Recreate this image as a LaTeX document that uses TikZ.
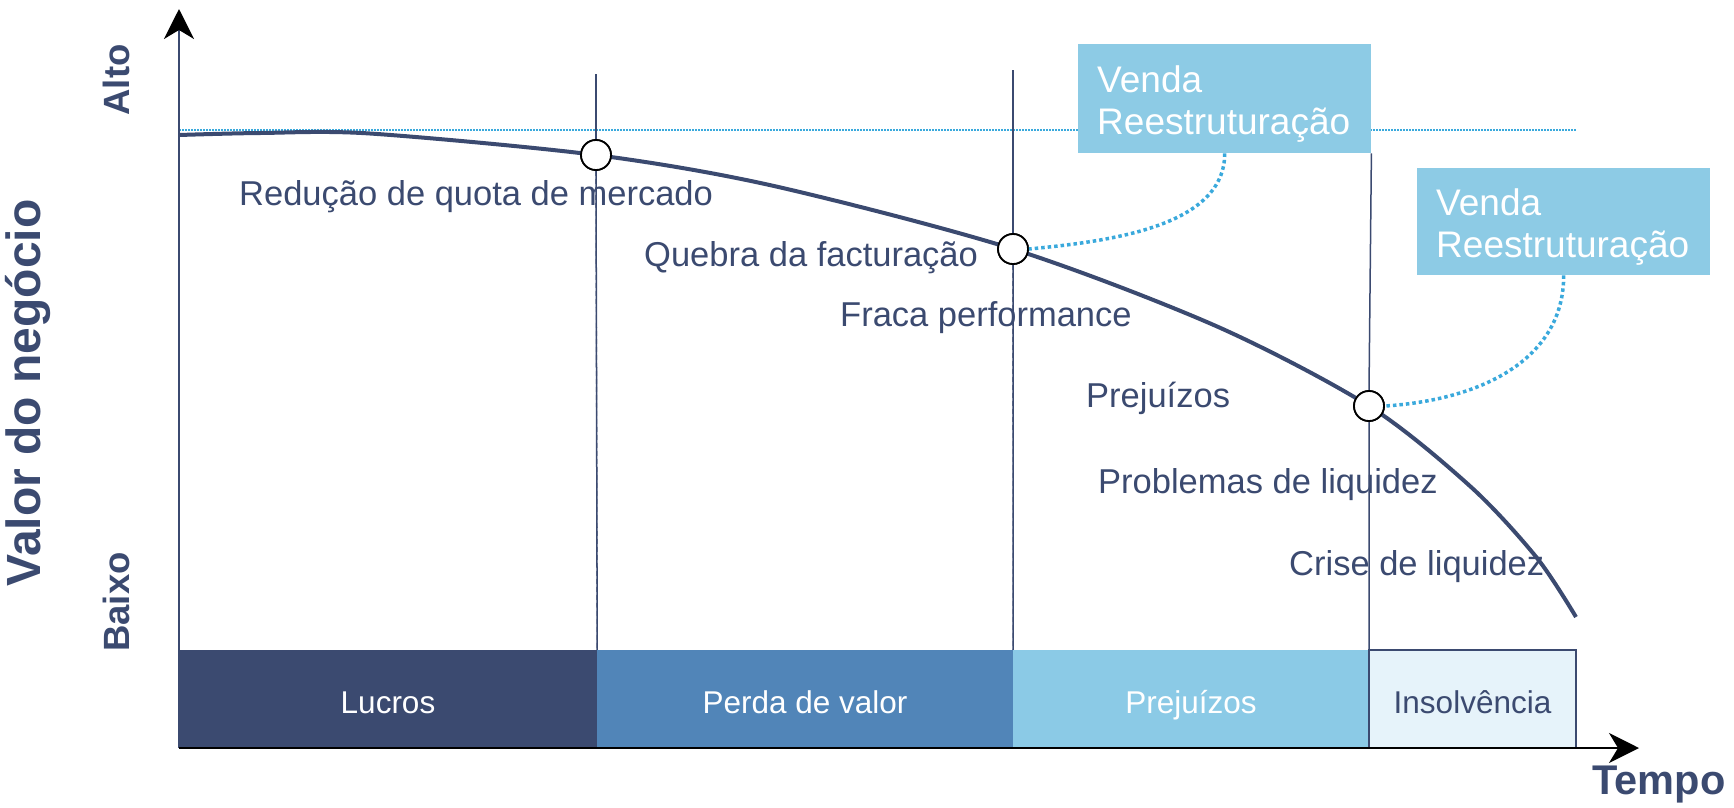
\documentclass[tikz,border=0pt]{standalone}
\usepackage{fontspec}
\setmainfont{Liberation Sans}
\usetikzlibrary{arrows.meta}
\definecolor{navy}{HTML}{3B4A70}
\definecolor{midblue}{HTML}{5185B8}
\definecolor{lightblue}{HTML}{8BCAE6}
\definecolor{paleblue}{HTML}{E6F3FA}
\definecolor{boxblue}{HTML}{8DCBE5}
\definecolor{dotblue}{HTML}{3AA9DC}
\tikzset{
  lbl/.style={font=\fontsize{34.5}{40}\selectfont, text=navy, inner sep=0pt, anchor=base west},
  barbox/.style={minimum height=98pt, inner sep=0pt, text height=0.72em+21pt, text depth=0pt, font=\fontsize{31.5}{36}\selectfont},
  vbox/.style={fill=boxblue, minimum width=293pt, inner sep=0pt, anchor=north west},
  vtxt/.style={font=\fontsize{37}{42}\selectfont, text=white, align=left, inner sep=0pt, anchor=north west},
  axlbl/.style={font=\bfseries\fontsize{36.5}{40}\selectfont, text=navy, inner sep=0pt, rotate=90},
  knot/.style={circle, draw=black, fill=white, line width=1.8pt, minimum size=30pt, inner sep=0pt},
  conn/.style={draw=dotblue, line width=3.5pt, dash pattern=on 3.5pt off 3pt},
  vline/.style={draw=navy, line width=1.5pt},
  vdash/.style={draw=navy, line width=1.2pt, dash pattern=on 5pt off 3pt},
}
\begin{document}
\begin{tikzpicture}[x=1pt,y=-1pt]
\useasboundingbox (0,0) rectangle (1734,807);

% bars
\node[barbox, fill=navy, text=white, minimum width=418pt] (lucros) at (388,699) {Lucros};
\node[barbox, fill=midblue, text=white, minimum width=416pt] (perda) at (805,699) {Perda de valor};
\node[barbox, fill=lightblue, text=white, minimum width=356pt] (prej) at (1191,699) {Prejuízos};
\node[barbox, fill=paleblue, draw=navy, line width=2pt, text=navy, minimum width=207pt] (insol) at (1472.5,699) {Insolvência};

% horizontal reference line
\coordinate (h0) at (179,130);
\coordinate (h1) at (1576,130);
\draw[draw=dotblue, line width=1.2pt, dash pattern=on 1.5pt off 1.5pt] (h0) -- (h1);

% boxes
\node[vbox, minimum height=109pt] (b1) at (1078,44) {};
\node[vtxt] (t1) at (1097,65) {Venda\\Reestruturação};
\node[vbox, minimum height=107pt] (b2) at (1417,168) {};
\node[vtxt] (t2) at (1436,188) {Venda\\Reestruturação};

% knots
\node[knot] (c1) at (596,155) {};
\node[knot] (c2) at (1013,249) {};
\node[knot] (c3) at (1369,406) {};

% vertical lines
\coordinate (v1t) at (596,74);
\coordinate (v2t) at (1013,70);
\draw[vline] (v1t) -- (c1.north);
\draw[vline] (c1.south) -- (lucros.north east);
\draw[vdash, xshift=1.5pt] (c1.south) -- (lucros.north east);
\draw[vline] (v2t) -- (c2.north);
\draw[vline] (c2.south) -- (perda.north east);
\draw[vdash, xshift=1.5pt] (c2.south) -- (perda.north east);
\draw[vline] (b1.south east) -- (c3.north);
\draw[vline] (c3.south) -- (prej.north east);

% curve
\draw[navy, line width=4pt] plot[smooth, tension=0.5] coordinates {(179,135) (260,133) (370,133.5) (596,155) (774,186) (1013,249) (1216,326) (1369,406) (1471,487) (1537,558) (1576,617)};

% knots on top
\node[knot] at (c1) {};
\node[knot] at (c2) {};
\node[knot] at (c3) {};

% connectors
\draw[conn] (b1.south) .. controls +(0,72) and +(85,-8) .. (c2.east);
\draw[conn] (b2.south) .. controls +(0,85) and +(95,-6) .. (c3.east);

% labels
\node[lbl] (l1) at (239,205) {Redução de quota de mercado};
\node[lbl] (l2) at (644,266) {Quebra da facturação};
\node[lbl] (l3) at (840,326) {Fraca performance};
\node[lbl] (l4) at (1086,407) {Prejuízos};
\node[lbl] (l5) at (1098,493) {Problemas de liquidez};
\node[lbl] (l6) at (1289,575) {Crise de liquidez};

% axes
\coordinate (o) at (179,748);
\coordinate (ytip) at (179,9);
\coordinate (xtip) at (1639,748);
\draw[navy, line width=2pt, -{Stealth[length=30pt, width=30pt, inset=9pt, black]}] (o) -- (ytip);
\draw[black, line width=2pt, -{Stealth[length=30pt, width=30pt, inset=9pt, black]}] (o) -- (xtip);

% axis labels
\node[axlbl] (alto) at (116,80) {Alto};
\node[axlbl] (baixo) at (116,602) {Baixo};
\node[axlbl, font=\bfseries\fontsize{48}{52}\selectfont] (valor) at (28,393) {Valor do negócio};
\node[font=\bfseries\fontsize{41.5}{44}\selectfont, text=navy, inner sep=0pt] (tempo) at (1659,785) {Tempo};
\end{tikzpicture}
\end{document}
